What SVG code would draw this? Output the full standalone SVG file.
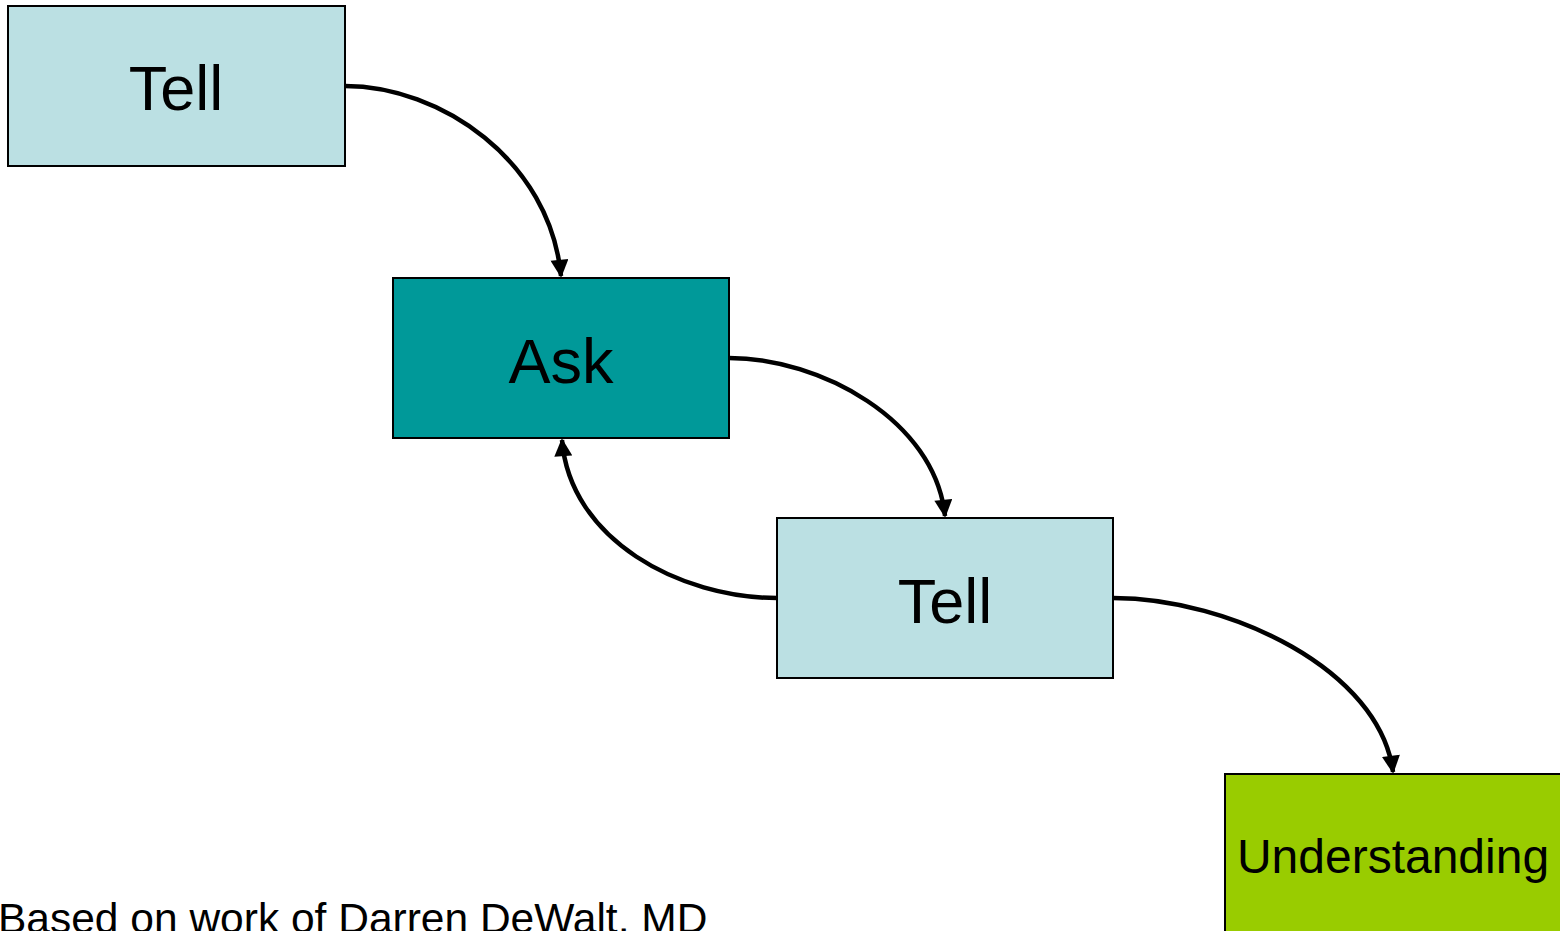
<svg xmlns="http://www.w3.org/2000/svg" width="1560" height="931" viewBox="0 0 1560 931">
<defs>
<style>
.box{stroke:#000;stroke-width:2}
.light{fill:#BBE0E3}
.teal{fill:#009999}
.green{fill:#99CC00}
.lbl{font-family:"Liberation Sans",Arial,sans-serif;fill:#000;text-anchor:middle}
.conn{fill:none;stroke:#000;stroke-width:4.5}
</style>
<marker id="arr" viewBox="0 0 10 10" refX="9" refY="5" markerWidth="4.2" markerHeight="4" orient="auto" markerUnits="strokeWidth">
<path d="M0,0 L10,5 L0,10 z" fill="#000"/>
</marker>
</defs>
<rect width="1560" height="931" fill="#fff"/>
<g id="connectors">
<path class="conn" d="M345,86 C440,86 550,160 561,276" marker-end="url(#arr)"/>
<path class="conn" d="M729,358 C820,358 935,420 945,516" marker-end="url(#arr)"/>
<path class="conn" d="M777,598 C680,598 570,540 562,440" marker-end="url(#arr)"/>
<path class="conn" d="M1113,598 C1230,598 1380,670 1393,772" marker-end="url(#arr)"/>
</g>
<g id="tell1">
<rect class="box light" x="8" y="6" width="337" height="160"/>
<text class="lbl" x="176" y="110" font-size="63">Tell</text>
</g>
<g id="ask">
<rect class="box teal" x="393" y="278" width="336" height="160"/>
<text class="lbl" x="561" y="383" font-size="63">Ask</text>
</g>
<g id="tell2">
<rect class="box light" x="777" y="518" width="336" height="160"/>
<text class="lbl" x="945" y="623" font-size="63">Tell</text>
</g>
<g id="understanding">
<rect class="box green" x="1225" y="774" width="340" height="170"/>
<text class="lbl" x="1393" y="873" font-size="48">Understanding</text>
</g>
<text id="footer" x="-2" y="933" font-size="42.5" font-family="Liberation Sans,Arial,sans-serif" fill="#000">Based on work of Darren DeWalt, MD</text>
</svg>
